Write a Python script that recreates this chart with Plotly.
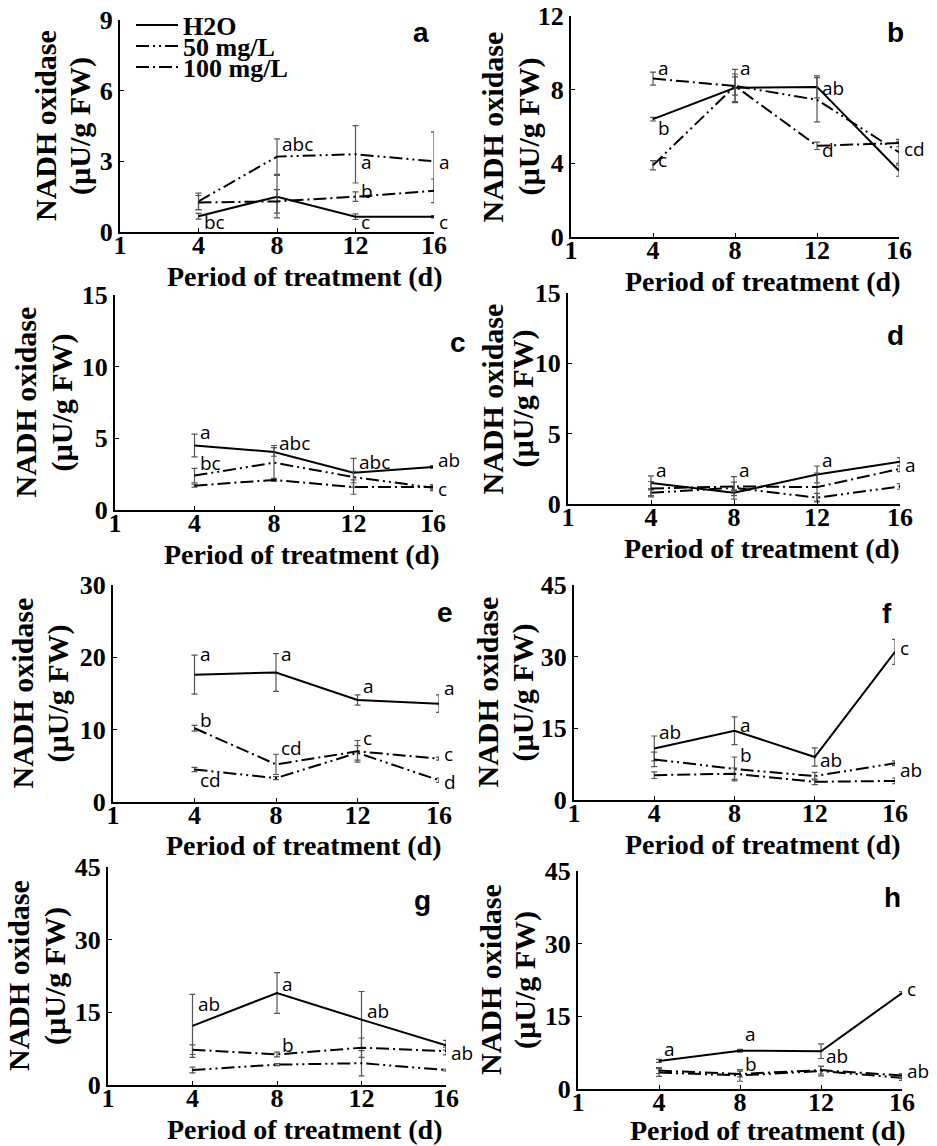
import plotly.graph_objects as go

# ---------------- data ----------------
DAYS = ["4", "8", "12", "16"]
X_TICKS = ["1", "4", "8", "12", "16"]
SERIES = ["H2O", "50 mg/L", "100 mg/L"]
X_TITLE = "Period of treatment (d)"
Y_TITLE_1 = "NADH oxidase"
Y_TITLE_2 = "(µU/g FW)"

# panel a
a_h2o = [0.67, 1.5, 0.65, 0.65]
a_h2o_err = [0.12, 0.9, 0.12, 0.05]
a_50 = [1.3, 3.2, 3.3, 3.0]
a_50_err = [0.35, 0.75, 1.22, 1.25]
a_100 = [1.25, 1.3, 1.5, 1.75]
a_100_err = [0.3, 0.5, 0.2, 0.5]
a_lab = ["bc", "abc", "a", "b", "c", "a", "c"]
a_lab_day = ["4", "8", "12", "12", "12", "16", "16"]
a_lab_y = [0.42, 3.72, 2.97, 1.74, 0.42, 2.97, 0.42]

# panel b
b_h2o = [6.4, 8.1, 8.15, 3.6]
b_h2o_err = [0.1, 0.75, 0.6, 0.3]
b_50 = [3.9, 8.2, 7.45, 4.6]
b_50_err = [0.25, 0.5, 1.2, 0.6]
b_100 = [8.6, 8.2, 4.95, 5.1]
b_100_err = [0.35, 0.9, 0.2, 0.2]
b_lab = ["a", "b", "c", "a", "ab", "d", "cd"]
b_lab_day = ["4", "4", "4", "8", "12", "12", "16"]
b_lab_y = [9.15, 5.9, 4.17, 9.15, 8.1, 4.75, 4.8]

# panel c
c_h2o = [4.5, 4.05, 2.6, 3.0]
c_h2o_err = [0.8, 0.3, 1.0, 0.1]
c_50 = [2.4, 3.3, 2.3, 1.55]
c_50_err = [0.5, 1.2, 0.4, 0.2]
c_100 = [1.7, 2.1, 1.6, 1.6]
c_100_err = [0.1, 0.1, 0.5, 0.15]
c_lab = ["a", "abc", "bc", "abc", "ab", "c"]
c_lab_day = ["4", "8", "4", "12", "16", "16"]
c_lab_y = [5.47, 4.65, 3.3, 3.37, 3.5, 1.44]

# panel d
d_h2o = [1.5, 0.8, 2.1, 3.0]
d_h2o_err = [0.5, 0.2, 0.6, 0.3]
d_50 = [0.8, 1.15, 0.45, 1.25]
d_50_err = [0.3, 0.8, 0.3, 0.2]
d_100 = [1.1, 1.25, 1.2, 2.5]
d_100_err = [0.5, 0.3, 1.0, 0.2]
d_lab = ["a", "a", "a", "a"]
d_lab_day = ["4", "8", "12", "16"]
d_lab_y = [2.4, 2.4, 3.16, 2.74]

# panel e
e_h2o = [17.6, 17.9, 14.1, 13.6]
e_h2o_err = [2.7, 2.6, 0.7, 1.2]
e_50 = [4.5, 3.3, 6.8, 3.0]
e_50_err = [0.3, 0.2, 1.0, 0.3]
e_100 = [10.2, 5.2, 7.0, 6.0]
e_100_err = [0.4, 1.4, 1.5, 0.2]
e_lab = ["a", "a", "a", "a", "b", "cd", "c", "c", "cd", "d"]
e_lab_day = ["4", "8", "12", "16", "4", "8", "12", "16", "4", "16"]
e_lab_y = [20.5, 20.5, 16.0, 15.8, 11.4, 7.4, 8.8, 6.7, 3.0, 2.8]

# panel f
f_h2o = [10.8, 14.5, 9.0, 31.0]
f_h2o_err = [2.6, 2.9, 1.9, 2.6]
f_50 = [8.5, 6.5, 5.0, 7.7]
f_50_err = [1.5, 2.5, 0.8, 0.5]
f_100 = [5.2, 5.5, 3.8, 4.0]
f_100_err = [0.7, 1.2, 0.6, 0.6]
f_lab = ["ab", "a", "b", "ab", "c", "ab"]
f_lab_day = ["4", "8", "8", "12", "16", "16"]
f_lab_y = [14.3, 15.7, 9.4, 8.4, 31.8, 6.3]

# panel g
g_h2o = [12.2, 19.0, 13.5, 8.2]
g_h2o_err = [6.5, 4.2, 5.8, 1.0]
g_50 = [3.1, 4.2, 4.5, 3.1]
g_50_err = [0.6, 0.2, 2.6, 0.2]
g_100 = [7.3, 6.3, 7.7, 7.0]
g_100_err = [1.0, 0.5, 2.0, 0.8]
g_lab = ["ab", "a", "ab", "b", "ab"]
g_lab_day = ["4", "8", "12", "8", "16"]
g_lab_y = [16.7, 20.9, 15.3, 8.2, 6.6]

# panel h
h_h2o = [5.8, 7.9, 7.8, 19.8]
h_h2o_err = [0.3, 0.3, 1.5, 0.3]
h_50 = [3.4, 2.8, 3.7, 2.3]
h_50_err = [0.8, 1.2, 1.0, 0.5]
h_100 = [3.8, 3.1, 3.9, 2.8]
h_100_err = [0.6, 0.6, 0.8, 0.4]
h_lab = ["a", "a", "b", "ab", "c", "ab"]
h_lab_day = ["4", "8", "8", "12", "16", "16"]
h_lab_y = [8.3, 11.4, 5.2, 6.9, 20.7, 3.8]

Y_MAX = [9, 12, 15, 15, 30, 45, 45, 45]
Y_STEP = [3, 4, 5, 5, 10, 15, 15, 15]
PANEL_LETTERS = ["a", "b", "c", "d", "e", "f", "g", "h"]

# ---------------- layout geometry (pixels) ----------------
W, H = 937, 1146
BOXES = [  # x0, x1, ytop, ybottom
    (120, 434, 20, 232),
    (571, 899, 16, 237),
    (115, 433, 295, 510),
    (568, 900, 293, 504),
    (113, 439, 585, 802),
    (574, 895, 585, 800),
    (108, 446, 867, 1085),
    (578, 902, 871, 1089),
]
LETTER_POS = [(421, 33), (895, 33), (458, 343), (895, 335),
              (445, 612), (887, 613), (422, 900), (892, 897)]
# distance (px) from the y-axis line to the centres of the two y-title lines
YT_OFF = [(75, 40), (79, 43), (90, 53), (76, 45),
          (91, 56), (87, 51), (90, 53), (88, 53)]
LEGEND_Y = [25, 46, 67]

panels = [
    (a_h2o, a_h2o_err, a_50, a_50_err, a_100, a_100_err, a_lab, a_lab_day, a_lab_y),
    (b_h2o, b_h2o_err, b_50, b_50_err, b_100, b_100_err, b_lab, b_lab_day, b_lab_y),
    (c_h2o, c_h2o_err, c_50, c_50_err, c_100, c_100_err, c_lab, c_lab_day, c_lab_y),
    (d_h2o, d_h2o_err, d_50, d_50_err, d_100, d_100_err, d_lab, d_lab_day, d_lab_y),
    (e_h2o, e_h2o_err, e_50, e_50_err, e_100, e_100_err, e_lab, e_lab_day, e_lab_y),
    (f_h2o, f_h2o_err, f_50, f_50_err, f_100, f_100_err, f_lab, f_lab_day, f_lab_y),
    (g_h2o, g_h2o_err, g_50, g_50_err, g_100, g_100_err, g_lab, g_lab_day, g_lab_y),
    (h_h2o, h_h2o_err, h_50, h_50_err, h_100, h_100_err, h_lab, h_lab_day, h_lab_y),
]

DASHES = ["solid", "13px,4px,2px,4px,2px,4px", "13px,4px,2px,4px"]
SERIF = "Liberation Serif, Times New Roman, serif"
SANS = "Open Sans, Liberation Sans, Arial, sans-serif"
LEGEND_KEYS = ["legend", "legend2", "legend3"]

fig = go.Figure()
layout = dict(
    width=W, height=H,
    margin=dict(l=0, r=0, t=0, b=0),
    paper_bgcolor="white", plot_bgcolor="white",
    showlegend=True,
)
for k, lk in enumerate(LEGEND_KEYS):
    layout[lk] = dict(x=131 / W, y=1 - LEGEND_Y[k] / H, xanchor="left", yanchor="middle",
                      bgcolor="rgba(0,0,0,0)", itemwidth=42,
                      borderwidth=0,
                      font=dict(family=SERIF, size=26, color="black", weight="bold"))

annotations = []


def bold_serif(s):
    return dict(family=SERIF, size=s, color="black", weight="bold")


for i, p in enumerate(panels):
    h2o, h2o_err, s50, s50_err, s100, s100_err, lab, lab_day, lab_y = p
    xa = "x" if i == 0 else f"x{i+1}"
    ya = "y" if i == 0 else f"y{i+1}"
    vals = [(h2o, h2o_err), (s50, s50_err), (s100, s100_err)]
    for k, (v, e) in enumerate(vals):
        fig.add_trace(go.Scatter(
            x=DAYS, y=v, xaxis=xa, yaxis=ya, mode="lines",
            name=SERIES[k], showlegend=(i == 0), legend=LEGEND_KEYS[k],
            line=dict(color="black", width=2, dash=DASHES[k]),
            error_y=dict(type="data", array=e, visible=True,
                         color="#555555", thickness=1.2, width=3),
        ))
    x0, x1, yt, yb = BOXES[i]
    key = "" if i == 0 else str(i + 1)
    layout["xaxis" + key] = dict(
        domain=[x0 / W, x1 / W], anchor=ya, type="category",
        categoryorder="array", categoryarray=X_TICKS, range=[0, 4],
        tickvals=X_TICKS, ticktext=X_TICKS,
        showline=True, linecolor="black", linewidth=2, mirror=False,
        ticks="inside", ticklen=4, tickcolor="black", showgrid=False,
        zeroline=False, automargin=False, ticklabelstandoff=-11,
        tickfont=bold_serif(26),
    )
    layout["yaxis" + key] = dict(
        domain=[1 - yb / H, 1 - yt / H], anchor=xa,
        range=[0, Y_MAX[i]], tickmode="linear", tick0=0, dtick=Y_STEP[i],
        showline=True, linecolor="black", linewidth=2,
        ticks="inside", ticklen=4, tickcolor="black", showgrid=False,
        zeroline=False, automargin=False,
        tickfont=bold_serif(26),
    )
    # axis titles
    title_y = min(yb + 44, H - 16)
    annotations.append(dict(
        x=((x0 + x1) / 2 + 28) / W, y=1 - title_y / H, xref="paper", yref="paper",
        text=X_TITLE, showarrow=False, xanchor="center", yanchor="middle",
        font=bold_serif(28), borderpad=0,
    ))
    for txt, off in zip([Y_TITLE_1, Y_TITLE_2], YT_OFF[i]):
        annotations.append(dict(
            x=(x0 - off) / W, y=1 - ((yt + yb) / 2) / H, xref="paper", yref="paper",
            text=txt, showarrow=False, textangle=-90,
            xanchor="center", yanchor="middle", font=bold_serif(30),
        ))
    # significance letters
    for t, d, yv in zip(lab, lab_day, lab_y):
        annotations.append(dict(
            x=X_TICKS.index(d), y=yv, xref=xa, yref=ya, text=t, showarrow=False,
            xanchor="left", yanchor="middle", xshift=3,
            font=dict(family=SANS, size=19, color="black"),
        ))
    lx, ly = LETTER_POS[i]
    annotations.append(dict(
        x=lx / W, y=1 - ly / H, xref="paper", yref="paper",
        text=PANEL_LETTERS[i], showarrow=False,
        xanchor="center", yanchor="middle",
        font=dict(family="Liberation Sans, Arial, sans-serif", size=28,
                  color="black", weight="bold"),
    ))

layout["annotations"] = annotations
fig.update_layout(**layout)
fig.write_html("out.html")
